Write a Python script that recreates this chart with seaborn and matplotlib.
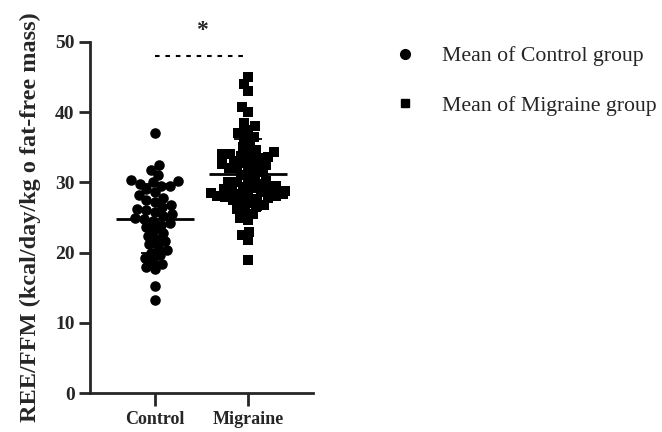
import numpy as np
import pandas as pd
import matplotlib
matplotlib.use("Agg")
import matplotlib.pyplot as plt
from matplotlib.lines import Line2D
from matplotlib.collections import PathCollection
import seaborn as sns

# REE per kg of fat-free mass (kcal/day/kg) for each participant
control_values = [37.0, 32.5, 31.8, 31.0, 30.3, 30.2, 30.0, 29.8, 29.5, 29.5, 29.0,
                  28.6, 28.2, 27.8, 27.5, 27.2, 26.8, 26.5, 26.2, 26.0, 25.8, 25.5,
                  25.2, 25.0, 24.8, 24.5, 24.2, 24.0, 23.6, 23.2, 22.8, 22.4, 22.0,
                  21.6, 21.2, 20.8, 20.4, 20.0, 19.6, 19.2, 18.8, 18.4, 18.0, 17.6,
                  15.3, 13.2]
migraine_values = [45.0, 44.0, 43.0, 40.8, 40.0, 38.5, 38.0, 37.5, 37.0, 36.5, 36.2,
                   35.5, 35.0, 34.6, 34.4, 34.2, 34.1, 34.0, 33.8, 33.6, 33.5, 33.2,
                   33.0, 32.8, 32.6, 32.5, 32.2, 32.0, 32.0, 31.8, 31.5, 31.0, 31.0,
                   30.5, 30.2, 30.0, 30.0, 29.8, 29.5, 29.4, 29.2, 29.0, 29.0, 28.8,
                   28.7, 28.6, 28.5, 28.4, 28.3, 28.2, 28.0, 28.0, 27.9, 27.8, 27.6,
                   27.5, 27.2, 27.0, 26.8, 26.5, 26.2, 26.0, 25.5, 25.0, 24.6, 23.0,
                   22.5, 21.8, 19.0]
groups = ["Control", "Migraine"]
markers = ["o", "s"]
swarm_sizes = [6.2, 5.6]
legend_labels = ["Mean of Control group", "Mean of Migraine group"]
y_ticks = [0, 10, 20, 30, 40, 50]
y_label = "REE/FFM (kcal/day/kg o fat-free mass)"

sns.set_style("ticks")
plt.rcParams["font.family"] = ["Liberation Serif", "DejaVu Serif"]

df = pd.DataFrame({
    "group": ["Control"] * len(control_values) + ["Migraine"] * len(migraine_values),
    "value": control_values + migraine_values,
})

fig = plt.figure(figsize=(6.62, 4.32), dpi=100)
ax = fig.add_axes([90 / 662, 1 - 393 / 432, 223 / 662, 351 / 432])

# swarm layout computed with a compact marker size
for g, m, sz in zip(groups, markers, swarm_sizes):
    sns.swarmplot(data=df[df.group == g], x="group", y="value", order=groups,
                  marker=m, color="black", size=sz, linewidth=0, ax=ax)
swarms = [c for c in ax.collections if isinstance(c, PathCollection)]

# mean and SD bars
for i, g in enumerate(groups):
    vals = np.array(df.loc[df.group == g, "value"])
    mean, sd = vals.mean(), vals.std(ddof=1)
    ax.hlines(mean, i - 0.42, i + 0.42, color="black", lw=2.0, zorder=5)
    ax.hlines([mean - sd, mean + sd], i - 0.15, i + 0.15, color="black", lw=1.3, zorder=5)

# significance marker
ax.plot([0, 1], [48, 48], color="black", lw=1.5, linestyle=(0, (2.2, 2.8)), clip_on=False)
ax.text(0.5, 51.6, "*", ha="center", va="center", fontsize=17, fontweight="bold",
        clip_on=False)

ax.set_xlim(-0.70, 1.70)
ax.set_ylim(0, 50)
ax.set_yticks(y_ticks)
ax.set_xlabel("")
ax.set_ylabel(y_label, fontsize=17.5, fontweight="bold", labelpad=10)
for s in ["top", "right"]:
    ax.spines[s].set_visible(False)
for s in ["left", "bottom"]:
    ax.spines[s].set_linewidth(2)
ax.tick_params(axis="y", length=8, width=2, labelsize=14, pad=3)
ax.tick_params(axis="x", length=9, width=2, labelsize=13, pad=4)
for lab in ax.get_xticklabels() + ax.get_yticklabels():
    lab.set_fontweight("bold")

handles = [Line2D([], [], marker="o", color="black", linestyle="", markersize=7),
           Line2D([], [], marker="s", color="black", linestyle="", markersize=6)]
fig.legend(handles, legend_labels, loc="center left", bbox_to_anchor=(394 / 662, 1 - 81 / 432),
           frameon=False, fontsize=15.7, handlelength=1, handletextpad=1.22,
           labelspacing=1.35, borderpad=0, borderaxespad=0)

# fix the swarm positions, then draw the markers at full size (they overlap slightly)
fig.canvas.draw()
for coll in swarms:
    if "draw" in coll.__dict__:
        del coll.draw
    coll.set_sizes([7.6 ** 2])

fig.savefig("out.png", dpi=100)
